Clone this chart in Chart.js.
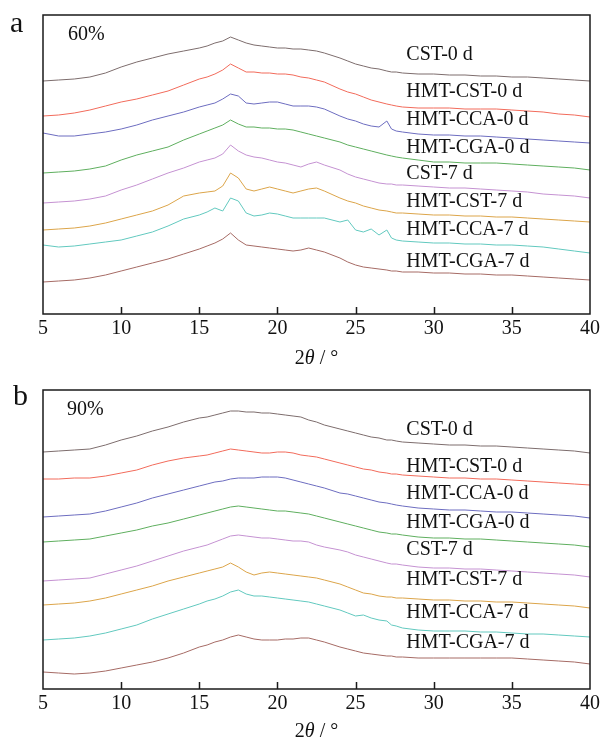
<!DOCTYPE html>
<html>
<head>
<meta charset="utf-8">
<script src="https://cdn.jsdelivr.net/npm/chart.js@4.4.1/dist/chart.umd.min.js"></script>
<style>
  body { margin: 0; background: #fff; }
  .panel { position: absolute; left: 0; width: 603px; }
</style>
</head>
<body>
<div class="panel" style="top:0;height:380px"><canvas id="chartA" width="603" height="380"></canvas></div>
<div class="panel" style="top:380px;height:371px"><canvas id="chartB" width="603" height="371"></canvas></div>
<script>
// 2θ sampling shared by every pattern
const twoTheta = [5,6,7,8,9,10,11,12,13,14,15,15.5,16,16.5,17,17.5,18,18.5,19,19.5,20,20.5,21,21.5,22,22.5,23,24,24.5,25,25.5,26,26.5,27,27.3,27.6,28,29,30,31,32,33,34,35,36,37,38,39,40];
const xTicks = [5,10,15,20,25,30,35,40];

const sampleNames = ["CST-0 d","HMT-CST-0 d","HMT-CCA-0 d","HMT-CGA-0 d","CST-7 d","HMT-CST-7 d","HMT-CCA-7 d","HMT-CGA-7 d"];
const lineColors = ["#7d6d6d","#f26b5b","#6d6dc0","#5faf5f","#c592d2","#dca54a","#62c9bf","#a66b65"];

// 60% moisture (panel a), intensity a.u. incl. stacking offset
const a_CST0  = [233,234,235,237,241,247,252,256,260,263,266,268,271,273,277,274,271,269,268,267,266,266,265,265,264,263,261,256,253,250,248,246,245,243,242,242,241,240,240,239,239,238,238,237,237,236,235,234,233];
const a_HCST0 = [198,199,201,204,208,212,215,219,223,229,235,237,240,244,250,246,242,242,241,241,240,240,239,237,236,234,232,225,222,220,217,214,212,210,209,208,207,206,206,206,205,205,205,204,203,202,200,199,197];
const a_HCCA0 = [181,178,178,180,182,185,189,194,198,202,207,209,211,215,220,218,211,210,211,212,212,210,208,208,208,207,205,198,195,193,190,188,187,193,185,183,182,180,179,179,178,178,177,176,175,174,173,172,171];
const a_HCGA0 = [141,142,143,145,148,154,159,163,167,174,180,183,186,189,194,190,187,187,186,186,185,185,184,182,180,178,176,172,169,167,165,163,161,159,158,157,156,154,152,152,151,151,151,150,149,148,147,146,144];
const a_CST7  = [111,112,113,115,118,124,129,135,141,146,152,154,156,160,169,163,159,157,156,154,152,151,149,147,150,152,149,144,140,137,135,133,131,130,130,129,129,128,127,126,126,125,124,123,122,120,119,118,116];
const a_HCST7 = [84,85,86,88,91,95,99,103,109,118,121,122,123,128,141,136,125,123,125,127,125,123,121,123,125,126,123,116,113,111,108,106,104,103,102,101,101,100,99,99,98,98,97,97,96,95,94,93,92];
const a_HCCA7 = [69,67,68,70,72,74,78,82,88,95,99,102,106,103,116,113,101,98,99,101,100,98,96,96,96,96,96,92,94,84,82,85,79,84,76,74,73,72,71,71,70,70,69,69,68,67,65,63,61];
const a_HCGA7 = [32,33,34,36,39,43,47,51,55,60,65,68,71,75,81,74,69,68,67,66,65,64,63,64,66,64,62,56,52,49,47,46,45,44,43,43,42,42,41,41,40,40,39,39,38,37,36,35,34];

// 90% moisture (panel b)
const b_CST0  = [237,238,239,240,244,249,253,258,262,267,271,272,274,276,278,278,277,277,276,276,275,274,273,272,269,267,264,260,258,256,254,252,251,249,249,248,247,246,245,244,244,243,243,242,241,240,239,238,236];
const b_HCST0 = [210,210,211,211,213,216,219,224,228,231,233,234,236,238,240,239,238,237,236,236,237,237,236,234,233,232,230,226,224,222,220,219,217,216,215,215,214,213,212,211,211,210,210,209,208,207,206,205,204];
const b_HCCA0 = [172,173,174,175,178,182,186,191,195,199,203,205,207,208,210,211,211,211,212,212,212,211,209,207,205,203,201,196,195,193,191,189,187,186,185,184,183,181,180,179,179,178,177,177,176,175,174,173,171];
const b_HCGA0 = [147,148,149,150,153,156,159,163,166,170,174,176,178,180,182,183,182,181,180,179,178,178,177,176,175,173,171,167,165,163,161,159,157,156,155,155,154,152,151,151,150,150,149,148,147,146,145,144,142];
const b_CST7  = [108,109,110,111,115,119,123,128,133,138,142,144,147,150,153,154,153,152,151,151,150,149,148,148,147,144,142,139,137,134,132,130,128,126,125,125,124,122,121,121,120,120,119,118,117,116,115,114,112];
const b_HCST7 = [84,85,86,88,91,95,99,103,108,112,116,118,120,122,126,122,117,114,116,117,116,115,114,113,112,111,109,105,102,99,96,95,93,92,92,91,91,90,89,89,88,88,87,87,86,85,84,83,81];
const b_HCCA7 = [49,50,51,53,56,60,64,70,75,80,85,88,90,93,97,99,95,93,93,92,91,90,89,88,87,85,83,79,76,73,74,71,69,68,64,63,61,59,58,58,58,57,57,56,55,55,54,53,52];
const b_HCGA7 = [17,16,15,16,18,21,24,27,31,36,42,44,47,49,52,54,52,50,49,49,49,50,50,51,51,49,47,42,40,38,36,35,34,33,33,32,32,31,31,31,31,31,31,31,30,29,28,27,25];

// where the sample names sit (2θ, intensity)
const labelX = 28.25;
const a_labelY = [259,222,194,166,140,112,84,52];
const b_labelY = [259,222,195,166,139,109,76,46];

const serif = "'Liberation Serif', 'Times New Roman', serif";

const framePlugin = {
  id: "frame",
  afterDraw(chart, args, opts) {
    const { ctx, chartArea: area, scales } = chart;
    const xs = scales.x, ys = scales.y;
    ctx.save();
    // frame
    ctx.strokeStyle = "#1a1a1a";
    ctx.lineWidth = 1.5;
    ctx.strokeRect(area.left, area.top, area.right - area.left, area.bottom - area.top);
    // inward ticks
    ctx.beginPath();
    xTicks.forEach((t) => {
      if (t <= xs.min || t >= xs.max) return;
      const px = Math.round(xs.getPixelForValue(t)) + 0.5;
      ctx.moveTo(px, area.bottom);
      ctx.lineTo(px, area.bottom - 7);
    });
    ctx.stroke();

    ctx.fillStyle = "#111";
    ctx.textBaseline = "middle";
    ctx.textAlign = "left";
    // sample names
    ctx.font = "20px " + serif;
    sampleNames.forEach((name, i) => {
      ctx.fillText(name, xs.getPixelForValue(labelX), ys.getPixelForValue(opts.labelY[i]));
    });
    // humidity tag
    ctx.fillText(opts.tag, opts.tagX, opts.tagY);
    // panel letter
    ctx.textBaseline = "alphabetic";
    ctx.font = "30px " + serif;
    ctx.fillText(opts.letter, opts.letterX, opts.letterY);

    // axis title: 2θ / °
    const parts = [["2", "20px " + serif], ["θ", "italic 20px " + serif], [" / °", "20px " + serif]];
    let total = 0;
    parts.forEach((p) => { ctx.font = p[1]; total += ctx.measureText(p[0]).width; });
    let x = (area.left + area.right) / 2 - total / 2;
    ctx.textBaseline = "middle";
    parts.forEach((p) => {
      ctx.font = p[1];
      ctx.fillText(p[0], x, area.bottom + opts.titleOffset);
      x += ctx.measureText(p[0]).width;
    });
    ctx.restore();
  }
};

function makeChart(canvasId, series, panel) {
  const datasets = series.map((vals, i) => ({
    label: sampleNames[i],
    data: twoTheta.map((t, j) => ({ x: t, y: vals[j] })),
    borderColor: lineColors[i],
    borderWidth: 1,
    pointRadius: 0,
    tension: 0,
    fill: false
  }));

  return new Chart(document.getElementById(canvasId), {
    type: "line",
    data: { datasets },
    options: {
      responsive: false,
      animation: false,
      layout: { padding: { left: 43, right: 12, top: panel.top, bottom: 0 } },
      plugins: {
        legend: { display: false },
        tooltip: { enabled: false },
        frame: panel
      },
      scales: {
        x: {
          type: "linear",
          min: 5,
          max: 40,
          afterFit: (scale) => { scale.height = panel.axisHeight; },
          afterBuildTicks: (scale) => { scale.ticks = xTicks.map((v) => ({ value: v })); },
          grid: { display: false, drawTicks: false },
          border: { display: false },
          ticks: {
            padding: 3,
            color: "#111",
            maxRotation: 0,
            font: { family: serif, size: 20 }
          }
        },
        y: {
          display: false,
          min: 0,
          max: 299
        }
      }
    },
    plugins: [framePlugin]
  });
}

makeChart("chartA",
  [a_CST0, a_HCST0, a_HCCA0, a_HCGA0, a_CST7, a_HCST7, a_HCCA7, a_HCGA7],
  { top: 15, axisHeight: 66, labelY: a_labelY, tag: "60%", tagX: 68, tagY: 35,
    letter: "a", letterX: 10, letterY: 32, titleOffset: 45 });

makeChart("chartB",
  [b_CST0, b_HCST0, b_HCCA0, b_HCGA0, b_CST7, b_HCST7, b_HCCA7, b_HCGA7],
  { top: 10, axisHeight: 62, labelY: b_labelY, tag: "90%", tagX: 67, tagY: 29.5,
    letter: "b", letterX: 13, letterY: 25, titleOffset: 43 });
</script>
</body>
</html>
